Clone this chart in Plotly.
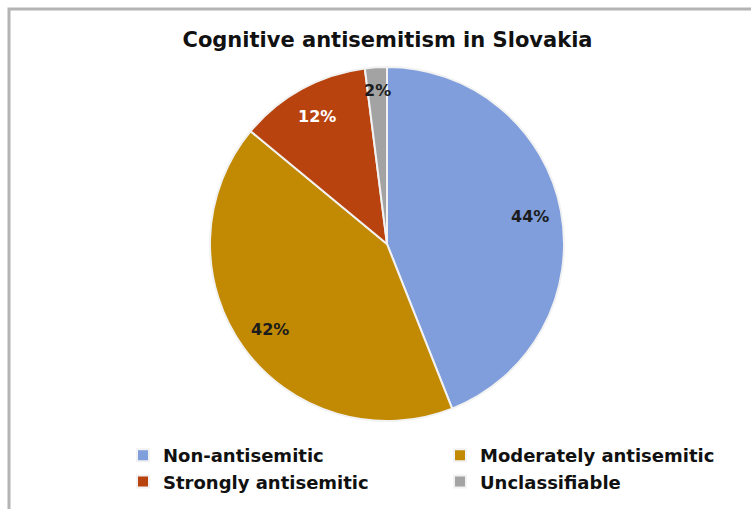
import math
import plotly.graph_objects as go

# data
labels = ["Non-antisemitic", "Moderately antisemitic", "Strongly antisemitic", "Unclassifiable"]
shares = [44, 42, 12, 2]
colors = ["#7f9edb", "#c28a02", "#b8430f", "#a3a3a3"]
text_colors = ["#1c1c1c", "#1c1c1c", "#ffffff", "#1c1c1c"]

W, H = 751, 509
cx, cy, r = 387, 244, 177
FONT = "DejaVu Sans"

fig = go.Figure(go.Pie(
    labels=["<b>%s</b>" % s for s in labels], values=shares, sort=False,
    direction="clockwise", rotation=0,
    marker=dict(colors=colors, line=dict(color="#f2f2f2", width=2)),
    textinfo="none", hoverinfo="label+percent",
    domain=dict(x=[(cx - r) / W, (cx + r) / W], y=[1 - (cy + r) / H, 1 - (cy - r) / H]),
))

# percentage labels sit out near the rim, at each slice's mid angle
annotations = []
total = sum(shares)
start = 0
for v, tc in zip(shares, text_colors):
    mid = (start + v / 2) / total * 2 * math.pi
    start += v
    rr = r * 0.82 if v > 5 else r * 0.87
    annotations.append(dict(
        x=(cx + rr * math.sin(mid)) / W, y=1 - (cy - rr * math.cos(mid)) / H,
        xref="paper", yref="paper", text="<b>%d%%</b>" % v, showarrow=False,
        font=dict(family=FONT, size=16, color=tc), xanchor="center", yanchor="middle"))

fig.update_layout(
    width=W, height=H,
    margin=dict(l=0, r=0, t=0, b=0, autoexpand=False),
    paper_bgcolor="white",
    title=dict(text="<b>Cognitive antisemitism in Slovakia</b>", x=0.516, xanchor="center",
               y=1 - 40 / H, yanchor="middle",
               font=dict(family=FONT, size=21, color="#111111")),
    legend=dict(orientation="h", x=123 / W, xanchor="left", y=1 - 437 / H, yanchor="top",
                entrywidth=272, entrywidthmode="pixels", traceorder="normal",
                font=dict(family=FONT, size=18, color="#111111")),
    annotations=annotations,
    shapes=[dict(type="rect", xref="paper", yref="paper",
                 x0=9 / W, x1=1.05, y0=-0.05, y1=1 - 9 / H,
                 line=dict(color="#b4b4b4", width=3), layer="below")],
)

# drop the browser's default 8px body margin so the figure sits at the page origin
fig.write_html("out.html", config={"displayModeBar": False},
               post_script="document.body.style.margin='0';")
